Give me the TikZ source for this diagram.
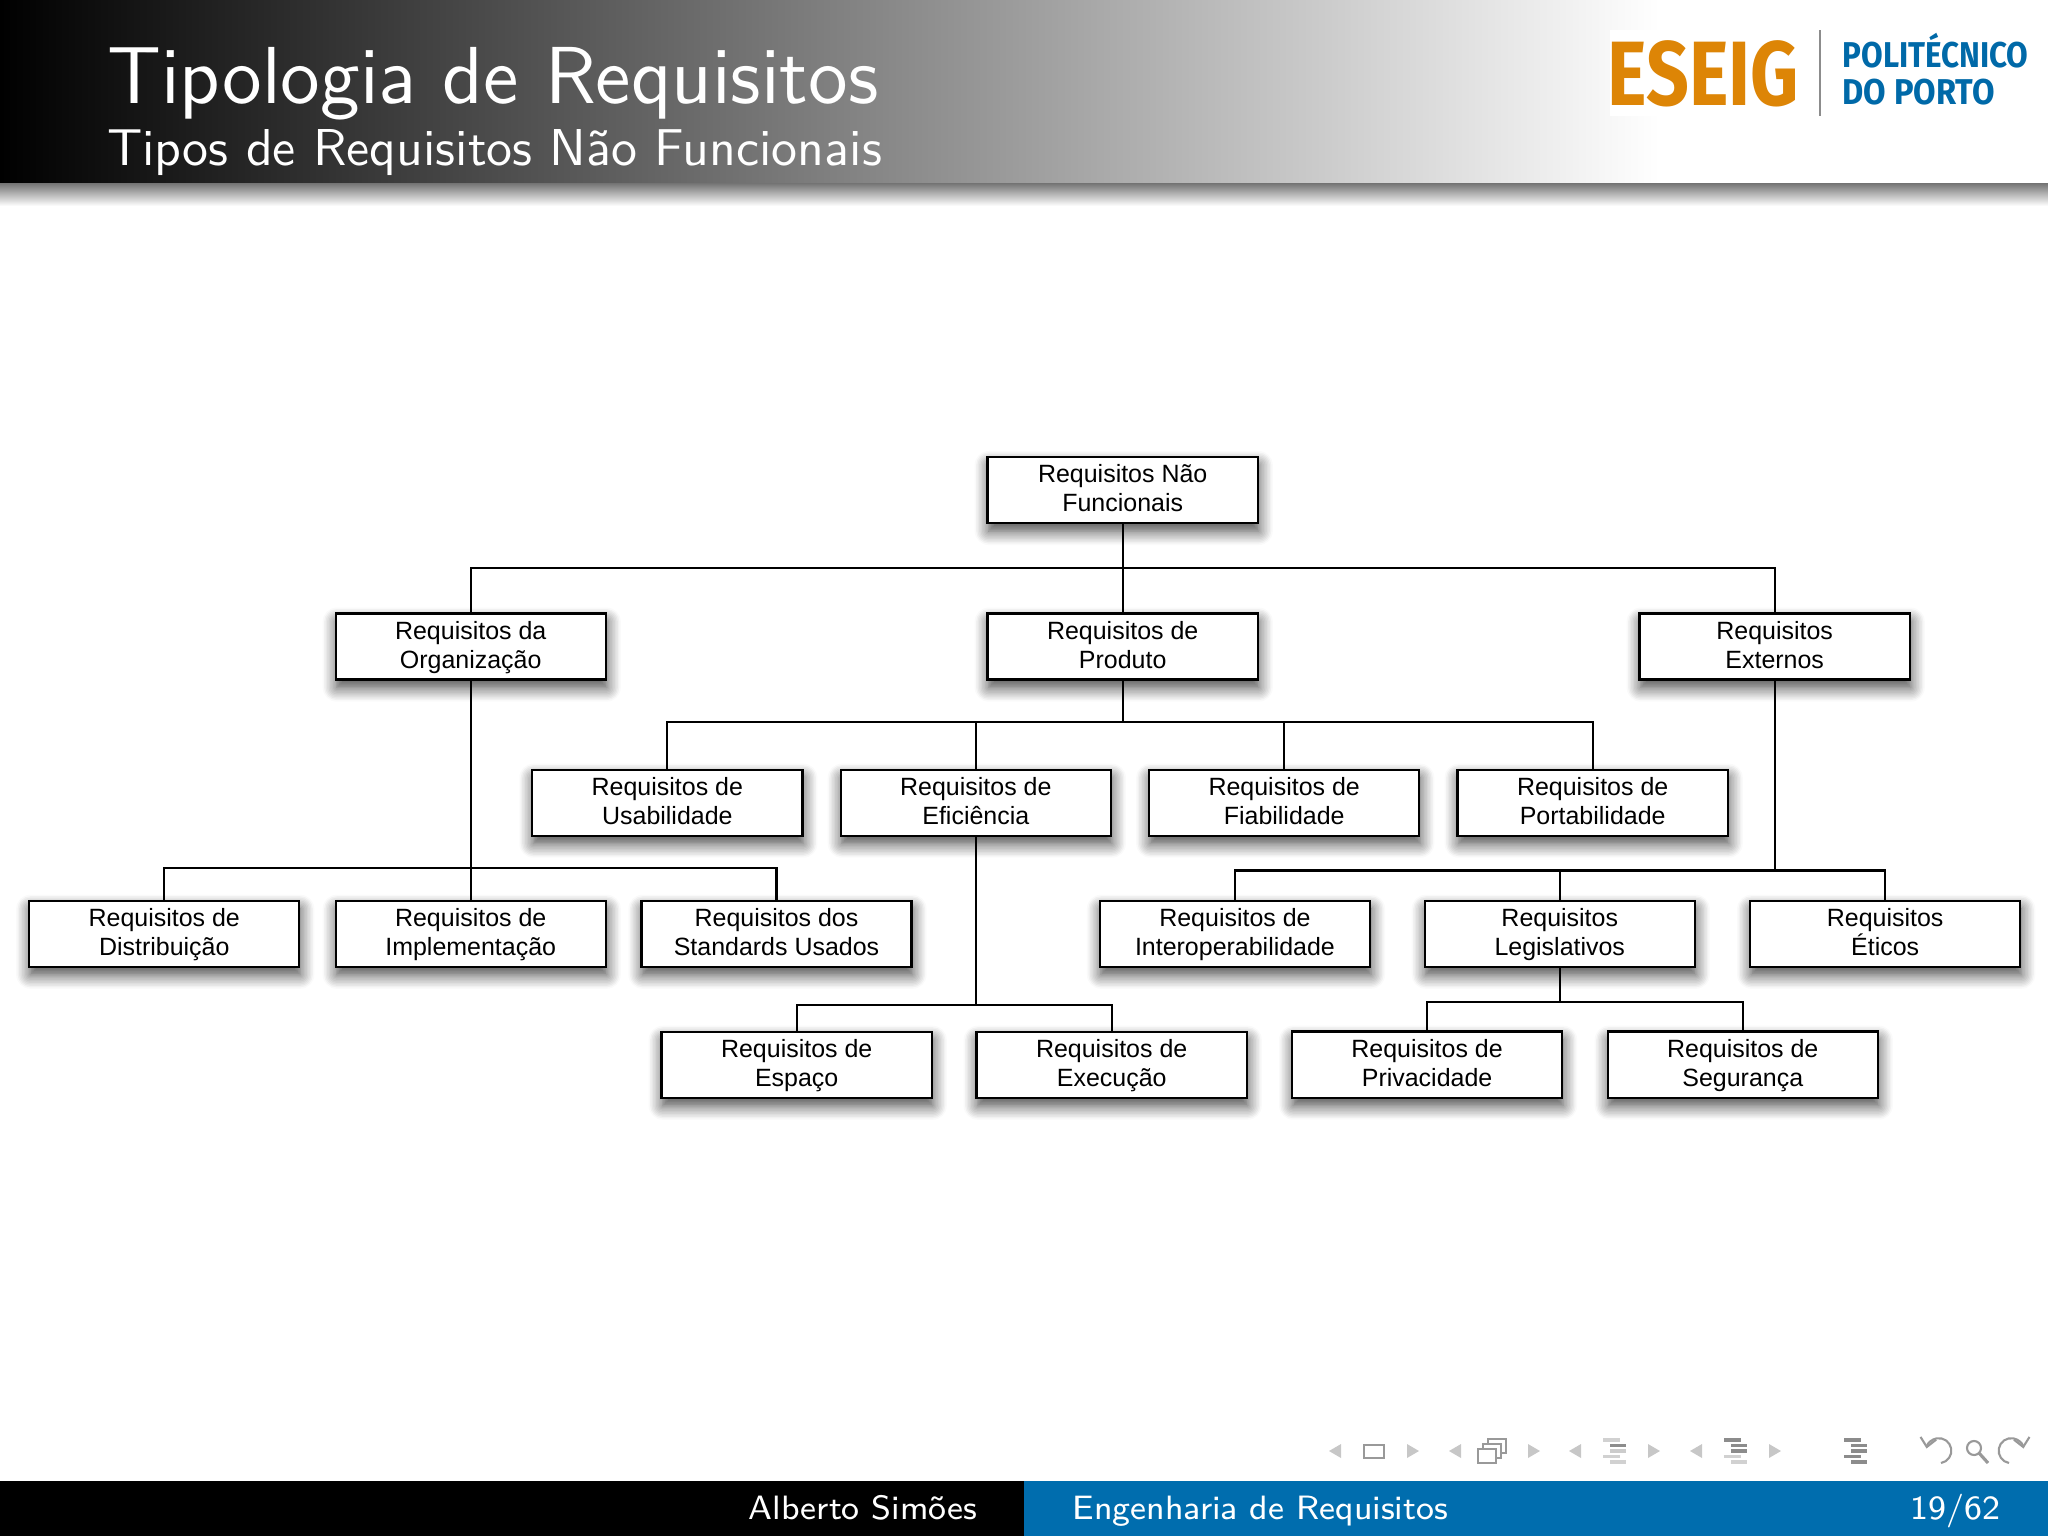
\documentclass[tikz,border=0pt]{standalone}
\usepackage{fontspec}
\usetikzlibrary{arrows.meta,shadows.blur}
\newfontfamily\boxfont{Liberation Sans}
\newfontfamily\logofont{Fira Sans}
\definecolor{footblue}{HTML}{006DAE}
\definecolor{logoorange}{HTML}{DD8506}
\definecolor{logoblue}{HTML}{0069A8}
\newcommand{\navlist}[6]{
    \fill[black!#2] (#1,1438) rectangle +(17,3.5);
    \fill[black!#3] (#1+7,1443.5) rectangle +(16,3.5);
    \fill[black!#4] (#1+7,1449) rectangle +(16,3.5);
    \fill[black!#5] (#1,1454.5) rectangle +(17,3.5);
    \fill[black!#6] (#1+7,1460) rectangle +(16,3.5);
}
\begin{document}
\begin{tikzpicture}[x=0.01cm,y=-0.01cm,req/.style={rectangle, draw=black, fill=white, line width=0.65pt, minimum width=2.7cm, minimum height=0.66cm, inner sep=0pt, align=center, font=\fontsize{7.1}{8.25}\selectfont\boxfont, text height=13.8pt, text depth=1.5pt, blur shadow={shadow xshift=0.01cm, shadow yshift=-0.08cm, shadow blur radius=0.14cm, shadow blur steps=10, shadow opacity=75}},link/.style={draw=black, line width=0.62pt},headtext/.style={anchor=base west, inner sep=0pt, text=white},foottext/.style={anchor=base west, inner sep=0pt, text=white, scale=1.2, font=\fontsize{8}{10}\selectfont\sffamily},navtri/.style={fill=black!22},navline/.style={draw=black!40, line width=0.6pt}]
    \useasboundingbox (0,0) rectangle (2048,1536);
    % header
    \shade[left color=black, right color=white] (0,0) rectangle (1660,183);
    \shade[top color=black!55, bottom color=white] (0,183) rectangle (2048,206);
    \node[headtext, scale=1.597, font=\fontsize{14.4}{16}\selectfont\sffamily] (title) at (106,103.5) {Tipologia de Requisitos};
    \node[headtext, scale=1.475, font=\fontsize{10}{12}\selectfont\sffamily] (subtitle) at (106,165) {Tipos de Requisitos Não Funcionais};
    % logo
    \fill[white] (1610,30) rectangle (1800,116);
    \node[anchor=base west, inner sep=0pt, text=logoorange, xscale=0.82, font=\fontsize{26}{26}\selectfont\logofont\bfseries] (eseig) at (1607,105) {ESEIG};
    \draw[black!45, line width=0.4pt] (1820,30) -- (1820,116);
    \node[anchor=base west, inner sep=0pt, text=logoblue, xscale=0.875, font=\fontsize{10.2}{10.2}\selectfont\logofont\bfseries] (poli) at (1842,67) {POLITÉCNICO};
    \node[anchor=base west, inner sep=0pt, text=logoblue, xscale=0.91, font=\fontsize{10.2}{10.2}\selectfont\logofont\bfseries] (porto) at (1842,104) {DO PORTO};
    % tree
    \node[req] (root) at (1122.7,490) {Requisitos Não\\Funcionais};
    \node[req, below of=root, node distance=1.565cm] (prod) {Requisitos de\\Produto};
    \node[req, left of=prod, node distance=6.516cm] (org) {Requisitos da\\Organização};
    \node[req, right of=prod, node distance=6.516cm] (ext) {Requisitos\\Externos};
    \node[req, below of=prod, node distance=1.56cm, xshift=-1.468cm] (efic) {Requisitos de\\Eficiência};
    \node[req, left of=efic, node distance=3.083cm] (usab) {Requisitos de\\Usabilidade};
    \node[req, right of=efic, node distance=3.082cm] (fiab) {Requisitos de\\Fiabilidade};
    \node[req, right of=fiab, node distance=3.083cm] (port) {Requisitos de\\Portabilidade};
    \node[req, below of=org, node distance=2.87cm] (impl) {Requisitos de\\Implementação};
    \node[req, left of=impl, node distance=3.063cm] (dist) {Requisitos de\\Distribuição};
    \node[req, right of=impl, node distance=3.056cm] (stand) {Requisitos dos\\Standards Usados};
    \node[req, below of=ext, node distance=2.87cm, xshift=-2.148cm] (legis) {Requisitos\\Legislativos};
    \node[req, left of=legis, node distance=3.246cm] (inter) {Requisitos de\\Interoperabilidade};
    \node[req, right of=legis, node distance=3.252cm] (etic) {Requisitos\\Éticos};
    \node[req, below of=efic, node distance=2.619cm, xshift=-1.79cm] (esp) {Requisitos de\\Espaço};
    \node[req, right of=esp, node distance=3.148cm] (exec) {Requisitos de\\Execução};
    \node[req, below of=legis, node distance=1.308cm, xshift=-1.326cm] (priv) {Requisitos de\\Privacidade};
    \node[req, right of=priv, node distance=3.155cm] (seg) {Requisitos de\\Segurança};
    \coordinate (busroot) at ([yshift=-0.44cm]root.south);
    \coordinate (busprod) at ([yshift=-0.412cm]prod.south);
    \coordinate (busorg) at ([yshift=-1.871cm]org.south);
    \coordinate (busext) at ([yshift=-1.897cm]ext.south);
    \coordinate (busefic) at ([yshift=-1.682cm]efic.south);
    \coordinate (buslegis) at ([yshift=-0.338cm]legis.south);
    \draw[link] (root) -- (prod);
    \draw[link] (busroot) -| (org);
    \draw[link] (busroot) -| (ext);
    \draw[link] (prod) -- (busprod);
    \draw[link] (busprod) -| (usab);
    \draw[link] (busprod) -| (efic);
    \draw[link] (busprod) -| (fiab);
    \draw[link] (busprod) -| (port);
    \draw[link] (org) -- (impl);
    \draw[link] (busorg) -| (dist);
    \draw[link] (busorg) -| (stand);
    \draw[link] (ext) -- (busext);
    \draw[link] (busext) -| (inter);
    \draw[link] (busext) -| (legis);
    \draw[link] (busext) -| (etic);
    \draw[link] (efic) -- (busefic);
    \draw[link] (busefic) -| (esp);
    \draw[link] (busefic) -| (exec);
    \draw[link] (legis) -- (buslegis);
    \draw[link] (buslegis) -| (priv);
    \draw[link] (buslegis) -| (seg);
    % navigation symbols
    \foreach \x in {1341,1461,1581,1702}
        \fill[navtri] (\x,1444) -- (\x,1458) -- (\x-12,1451) -- cycle;
    \foreach \x in {1407,1528,1648,1769}
        \fill[navtri] (\x,1444) -- (\x,1458) -- (\x+12,1451) -- cycle;
    \draw[navline, line width=0.8pt] (1364,1445) rectangle (1384,1458);
    \foreach \d in {10,5,0}
        \draw[navline, line width=0.7pt, fill=white] (1478+\d,1449-\d) rectangle (1496+\d,1463-\d);
    \navlist{1603}{18}{45}{20}{18}{18}
    \navlist{1724}{45}{45}{45}{18}{18}
    \navlist{1844}{45}{45}{45}{45}{45}
    \draw[navline, -{Straight Barb[length=2.5pt,width=4.5pt]}] (1941,1463) arc (-80:170:0.125cm);
    \draw[navline] (1974,1448) circle (0.07cm);
    \draw[navline, line width=0.9pt] (1979,1453) -- (1988,1463);
    \draw[navline, -{Straight Barb[length=2.5pt,width=4.5pt]}] (2009,1463) arc (260:10:0.125cm);
    % footer
    \fill[black] (0,1481) rectangle (1024,1536);
    \fill[footblue] (1024,1481) rectangle (2048,1536);
    \node[foottext] (author) at (748,1519) {Alberto Simões};
    \node[foottext] (course) at (1072,1519) {Engenharia de Requisitos};
    \node[foottext] (page) at (1910,1519) {19/62};
\end{tikzpicture}
\end{document}
